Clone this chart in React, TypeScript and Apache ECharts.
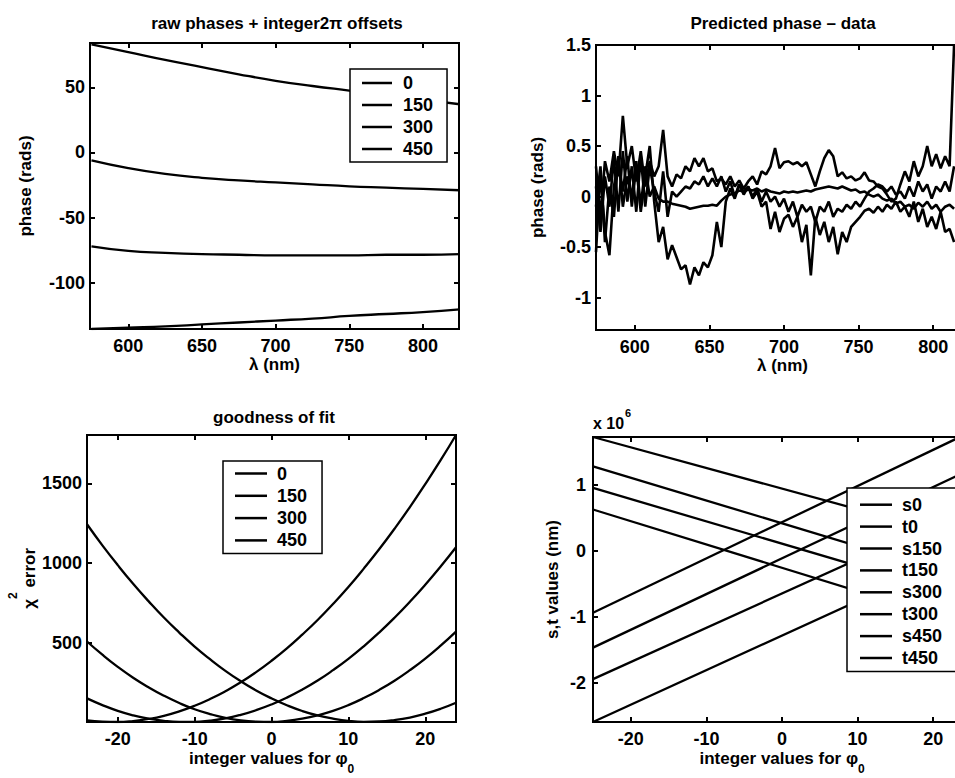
import React, { useEffect, useRef } from 'react';
import * as echarts from 'echarts';

const FONT = '"Liberation Sans", Arial, Helvetica, sans-serif';
const BLACK = '#000';

// ---------- Panel 1: raw phases + integer 2π offsets ----------
const rawLambda = [575, 600, 625, 650, 675, 700, 725, 750, 775, 800, 825];
const raw0 = [83, 77, 71, 65.5, 60, 55, 51, 47.5, 44, 40.5, 37];
const raw150 = [-6, -12, -16.5, -19.5, -21.5, -23, -24.5, -26, -27, -28, -29];
const raw300 = [-72, -75.5, -77, -78, -78.5, -79, -79, -79, -78.5, -78.5, -78];
const raw450 = [-135.5, -134.5, -133.5, -132, -130.5, -129, -127.5, -125.5, -124, -122.5, -120.5];
const offsetNames = ['0', '150', '300', '450'];

// ---------- Panel 2: predicted phase - data ----------
const resLambda = [
  574, 577, 580, 583, 586, 589, 592, 595, 598, 601, 604, 607, 610, 613, 616, 619, 622, 625, 628, 631,
  634, 637, 640, 643, 646, 649, 652, 655, 658, 661, 664, 667, 670, 673, 676, 679, 682, 685, 688, 691,
  694, 697, 700, 703, 706, 709, 712, 715, 718, 721, 724, 727, 730, 733, 736, 739, 742, 745, 748, 751,
  754, 757, 760, 763, 766, 769, 772, 775, 778, 781, 784, 787, 790, 793, 796, 799, 802, 805, 808, 811, 814,
];
const res0 = [
  -0.55, 0.25, -0.35, -0.58, 0.1, 0.35, 0.05, 0.4, -0.1, 0.3,
  -0.15, 0.2, 0.5, -0.05, -0.45, -0.3, -0.62, -0.48, -0.6, -0.72,
  -0.68, -0.87, -0.7, -0.78, -0.65, -0.7, -0.58, -0.25, -0.5, -0.05,
  0.08, -0.02, 0.12, 0.02, 0.1, -0.02, 0.05, -0.1, -0.05, -0.32,
  -0.15, -0.35, -0.22, -0.18, -0.3, -0.2, -0.45, -0.28, -0.78, -0.2,
  -0.38, -0.25, -0.45, -0.3, -0.57, -0.35, -0.45, -0.3, -0.25, -0.2,
  -0.14, -0.12, -0.16, -0.1, -0.15, -0.08, -0.12, -0.05, -0.15, -0.1,
  -0.2, -0.05, -0.25, -0.12, -0.3, -0.2, -0.32, -0.15, -0.35, -0.32, -0.45,
];
const res150 = [
  0.3, -0.2, 0.35, 0.15, 0.45, 0.2, 0.8, 0.3, 0.5, 0.15,
  0.45, 0.1, 0.35, 0.2, 0.3, 0.66, 0.2, 0.1, 0.22, 0.18,
  0.3, 0.25, 0.38, 0.3, 0.38, 0.25, 0.28, 0.15, 0.18, 0.12,
  0.2, 0.1, 0.16, 0.08, 0.15, 0.2, 0.12, 0.25, 0.22, 0.3,
  0.48, 0.28, 0.34, 0.35, 0.32, 0.34, 0.3, 0.34, 0.22, 0.1,
  0.25, 0.38, 0.46, 0.4, 0.2, 0.24, 0.18, 0.2, 0.16, 0.18,
  0.24, 0.16, 0.15, 0.1, 0.08, 0.02, -0.05, -0.02, 0.12, 0.25,
  0.15, 0.35, 0.2, 0.3, 0.5, 0.3, 0.42, 0.28, 0.4, 0.3, 1.5,
];
const res300 = [
  -0.1, 0.3, -0.45, 0.1, -0.2, 0.4, -0.1, 0.2, 0.0, 0.35,
  -0.1, 0.3, 0.0, 0.1, -0.02, -0.05, -0.05, -0.07, -0.08, -0.09,
  -0.1, -0.12, -0.11, -0.1, -0.09, -0.09, -0.08, -0.09, -0.04, 0.0,
  0.02, 0.03, 0.06, 0.05, 0.07, 0.06, 0.08, 0.05, 0.07, 0.05,
  0.04, 0.03, 0.05, 0.04, 0.05, 0.04, 0.05, 0.06, 0.05, 0.07,
  0.08, 0.09, 0.1, 0.09, 0.08, 0.1, 0.08, 0.06, 0.07, 0.04,
  0.05, 0.02, 0.0, 0.02, -0.02, -0.04, -0.02, -0.07, -0.05, -0.1,
  -0.08, -0.12, -0.06, -0.1, -0.05, -0.12, -0.08, -0.15, -0.1, -0.08, -0.12,
];
const res450 = [
  0.1, -0.35, 0.2, -0.1, 0.38, -0.15, 0.45, -0.05, 0.3, -0.15,
  0.4, -0.1, 0.3, 0.05, -0.15, 0.25, -0.2, 0.05, 0.0, 0.05,
  0.1, 0.08, 0.15, 0.12, 0.2, 0.1, 0.18, 0.1, 0.2, 0.05,
  0.15, 0.0, 0.12, 0.05, 0.1, 0.0, 0.08, -0.05, 0.05, -0.05,
  0.0, -0.1, -0.02, -0.15, -0.05, -0.2, -0.08, -0.15, -0.1, -0.25,
  -0.1, -0.15, -0.05, -0.2, -0.12, -0.15, -0.08, -0.12, -0.05, -0.1,
  -0.02, 0.05, 0.08, 0.12, 0.1, 0.05, 0.1, 0.02, 0.05, -0.02,
  0.1, 0.0, 0.15, 0.05, 0.12, -0.02, 0.1, 0.05, 0.15, 0.05, 0.3,
];

// ---------- Panel 3: goodness of fit ----------
const phiValues = [-24, -22, -20, -18, -16, -14, -12, -10, -8, -6, -4, -2, 0, 2, 4, 6, 8, 10, 12, 14, 16, 18, 20, 22, 24];
const chi0 = [1243, 1111, 987, 870, 761, 658, 564, 476, 397, 324, 259, 201, 151, 108, 72, 44, 24, 10, 4, 6, 15, 31, 55, 86, 124];
const chi150 = [508, 425, 349, 281, 221, 168, 122, 83, 53, 29, 13, 5, 3, 10, 24, 45, 73, 109, 153, 204, 262, 328, 401, 482, 570];
const chi300 = [151, 109, 73, 45, 24, 10, 4, 4, 12, 26, 48, 77, 113, 156, 206, 263, 328, 399, 478, 564, 657, 757, 864, 978, 1099];
const chi450 = [13, 5, 3, 9, 22, 42, 70, 105, 147, 196, 252, 316, 387, 465, 551, 643, 743, 850, 965, 1086, 1215, 1351, 1495, 1645, 1803];

// ---------- Panel 4: s,t values ----------
const stPhi = [-25, 25];
const s0 = [1730000, 165000];
const t0 = [-933000, 1810000];
const s150 = [1286000, -444000];
const t150 = [-1463000, 1243000];
const s300 = [958000, -733000];
const t300 = [-1940000, 655000];
const s450 = [631000, -1137000];
const t450 = [-2590000, 30000];
const stNames = ['s0', 't0', 's150', 't150', 's300', 't300', 's450', 't450'];

const txt = { fontFamily: FONT, fontWeight: 'bold', color: BLACK };

const tickFmt = (step: number, scale = 1) => (v: number) => {
  const q = v / step;
  if (Math.abs(q - Math.round(q)) > 1e-6) return '';
  return String(Number(((Math.round(q) * step) / scale).toFixed(6)));
};

const tickStyle = { show: true, inside: true, length: 5, lineStyle: { color: BLACK, width: 2 } };

function mainAxis(kind: 'x' | 'y', gridIndex: number, min: number, max: number, step: number, splitNumber: number,
  name: string, nameGap: number, nameTextStyle: any, scale = 1, labelMargin = 8) {
  return {
    type: 'value', gridIndex, position: kind === 'x' ? 'bottom' : 'left', min, max, splitNumber,
    axisLine: { show: false, onZero: false },
    axisTick: tickStyle,
    splitLine: { show: false },
    axisLabel: { show: true, margin: labelMargin, fontSize: 18, ...txt, formatter: tickFmt(step, scale) },
    name, nameLocation: 'middle', nameGap, nameTextStyle,
  };
}
function mirrorAxis(kind: 'x' | 'y', gridIndex: number, min: number, max: number, splitNumber: number) {
  return {
    type: 'value', gridIndex, position: kind === 'x' ? 'top' : 'right', min, max, splitNumber,
    axisLine: { show: false, onZero: false },
    axisTick: tickStyle,
    splitLine: { show: false },
    axisLabel: { show: false },
  };
}

const nameStyle = { fontSize: 17, ...txt };

const phiNameStyle = {
  ...nameStyle,
  rich: {
    z: { fontSize: 1, lineHeight: 25 },
    b: { fontSize: 17, ...txt, lineHeight: 20, verticalAlign: 'top' },
    s: { fontSize: 12, ...txt, lineHeight: 14, verticalAlign: 'bottom' },
  },
};

function line(name: string, xs: number[], ys: number[], idx: number, smooth = false, width = 2.3) {
  return {
    type: 'line', name, xAxisIndex: idx, yAxisIndex: idx,
    data: xs.map((x, i) => [x, ys[i]]),
    symbol: 'none', showSymbol: false, smooth, clip: true,
    color: BLACK, lineStyle: { color: BLACK, width }, itemStyle: { color: BLACK },
    silent: true,
  };
}

function legendBox(left: number, top: number, data: string[], padding: number[], itemGap: number, itemWidth: number, textPadLeft: number) {
  return {
    orient: 'vertical', left, top, data, padding, itemGap, itemWidth, itemHeight: 2.5,
    icon: 'rect',
    borderColor: BLACK, borderWidth: 1.5, borderRadius: 0, backgroundColor: '#fff',
    selectedMode: false,
    textStyle: { fontSize: 18, ...txt, lineHeight: 18, padding: [0, 0, 0, textPadLeft] },
  };
}

const chiMin = Math.min(...chi0, ...chi150, ...chi300, ...chi450);
const chiMax = Math.max(...chi0, ...chi150, ...chi300, ...chi450);

const gridBase = { show: true, borderColor: BLACK, borderWidth: 2, backgroundColor: 'transparent', containLabel: false, outerBoundsMode: 'none' };

const option: any = {
  animation: false,
  backgroundColor: '#fff',
  grid: [
    { ...gridBase, left: 90, top: 43, width: 369, height: 286 },
    { ...gridBase, left: 596, top: 45, width: 373, height: 285 },
    { ...gridBase, left: 87, top: 435, width: 369, height: 287 },
    { ...gridBase, left: 593, top: 437, width: 378, height: 285 },
  ],
  xAxis: [
    mainAxis('x', 0, 574, 824.5, 50, 5, 'λ (nm)', 19, nameStyle),
    mirrorAxis('x', 0, 574, 824.5, 5),
    mainAxis('x', 1, 574, 824, 50, 5, 'λ (nm)', 18, nameStyle),
    mirrorAxis('x', 1, 574, 824, 5),
    mainAxis('x', 2, -24, 24, 10, 5, '{z| }{b|integer values for φ}{s|0}', 28, phiNameStyle),
    mirrorAxis('x', 2, -24, 24, 5),
    mainAxis('x', 3, -25, 25, 10, 5, '{z| }{b|integer values for φ}{s|0}', 28, phiNameStyle),
    mirrorAxis('x', 3, -25, 25, 5),
  ],
  yAxis: [
    mainAxis('y', 0, -135.5, 84, 50, 5, 'phase (rads)', 56, nameStyle, 1, 5),
    mirrorAxis('y', 0, -135.5, 84, 5),
    mainAxis('y', 1, -1.32, 1.5, 0.5, 5, 'phase (rads)', 50, nameStyle, 1, 5),
    mirrorAxis('y', 1, -1.32, 1.5, 5),
    mainAxis('y', 2, chiMin, chiMax, 500, 3, '{z| }{b|χ}{p|2}{b| error}', 46, {
      ...nameStyle,
      rich: {
        z: { fontSize: 1, lineHeight: 31 },
        b: { fontSize: 17, ...txt, lineHeight: 20, verticalAlign: 'bottom' },
        p: { fontSize: 12, ...txt, lineHeight: 12, verticalAlign: 'top' },
      },
    }, 1, 5),
    mirrorAxis('y', 2, chiMin, chiMax, 3),
    mainAxis('y', 3, -2590000, 1730000, 1000000, 5, 's,t values (nm)', 32, nameStyle, 1000000, 7),
    mirrorAxis('y', 3, -2590000, 1730000, 5),
  ],
  legend: [
    legendBox(350, 69, offsetNames, [5, 14, 4, 12], 4, 30, 6),
    legendBox(223, 461, offsetNames, [3.5, 15, 4, 12], 4.3, 32, 5),
    legendBox(847, 488, stNames, [7.7, 14, 4.4, 13], 3.9, 32, 5),
  ],
  graphic: [
    { type: 'text', x: 277, y: 23, silent: true, style: { text: 'raw phases + integer2π offsets', font: `bold 17px ${FONT}`, fill: BLACK, textAlign: 'center', textVerticalAlign: 'middle', align: 'center', verticalAlign: 'middle' } },
    { type: 'text', x: 783, y: 23, silent: true, style: { text: 'Predicted phase – data', font: `bold 17px ${FONT}`, fill: BLACK, textAlign: 'center', textVerticalAlign: 'middle', align: 'center', verticalAlign: 'middle' } },
    { type: 'text', x: 274, y: 417, silent: true, style: { text: 'goodness of fit', font: `bold 17px ${FONT}`, fill: BLACK, textAlign: 'center', textVerticalAlign: 'middle', align: 'center', verticalAlign: 'middle' } },
    { type: 'text', x: 593, y: 423, silent: true, style: { text: 'x 10', font: `bold 16px ${FONT}`, fill: BLACK, textAlign: 'left', textVerticalAlign: 'middle', align: 'left', verticalAlign: 'middle' } },
    { type: 'text', x: 625, y: 413, silent: true, style: { text: '6', font: `bold 11px ${FONT}`, fill: BLACK, textAlign: 'left', textVerticalAlign: 'middle', align: 'left', verticalAlign: 'middle' } },
  ],
  series: [
    line('0', rawLambda, raw0, 0, true),
    line('150', rawLambda, raw150, 0, true),
    line('300', rawLambda, raw300, 0, true),
    line('450', rawLambda, raw450, 0, true),
    line('residual 0', resLambda, res0, 2, false, 2.6),
    line('residual 150', resLambda, res150, 2, false, 2.6),
    line('residual 300', resLambda, res300, 2, false, 2.6),
    line('residual 450', resLambda, res450, 2, false, 2.6),
    line('0', phiValues, chi0, 4, true),
    line('150', phiValues, chi150, 4, true),
    line('300', phiValues, chi300, 4, true),
    line('450', phiValues, chi450, 4, true),
    line('s0', stPhi, s0, 6),
    line('t0', stPhi, t0, 6),
    line('s150', stPhi, s150, 6),
    line('t150', stPhi, t150, 6),
    line('s300', stPhi, s300, 6),
    line('t300', stPhi, t300, 6),
    line('s450', stPhi, s450, 6),
    line('t450', stPhi, t450, 6),
  ],
};

export default function App() {
  const ref = useRef<HTMLDivElement>(null);
  useEffect(() => {
    if (!ref.current) return;
    const chart = echarts.init(ref.current, null, { renderer: 'svg' });
    chart.setOption(option);
    return () => chart.dispose();
  }, []);
  return (
    <div
      ref={ref}
      style={{ position: 'absolute', left: 0, top: 0, width: 955, height: 778, background: '#fff', overflow: 'hidden' }}
    />
  );
}
